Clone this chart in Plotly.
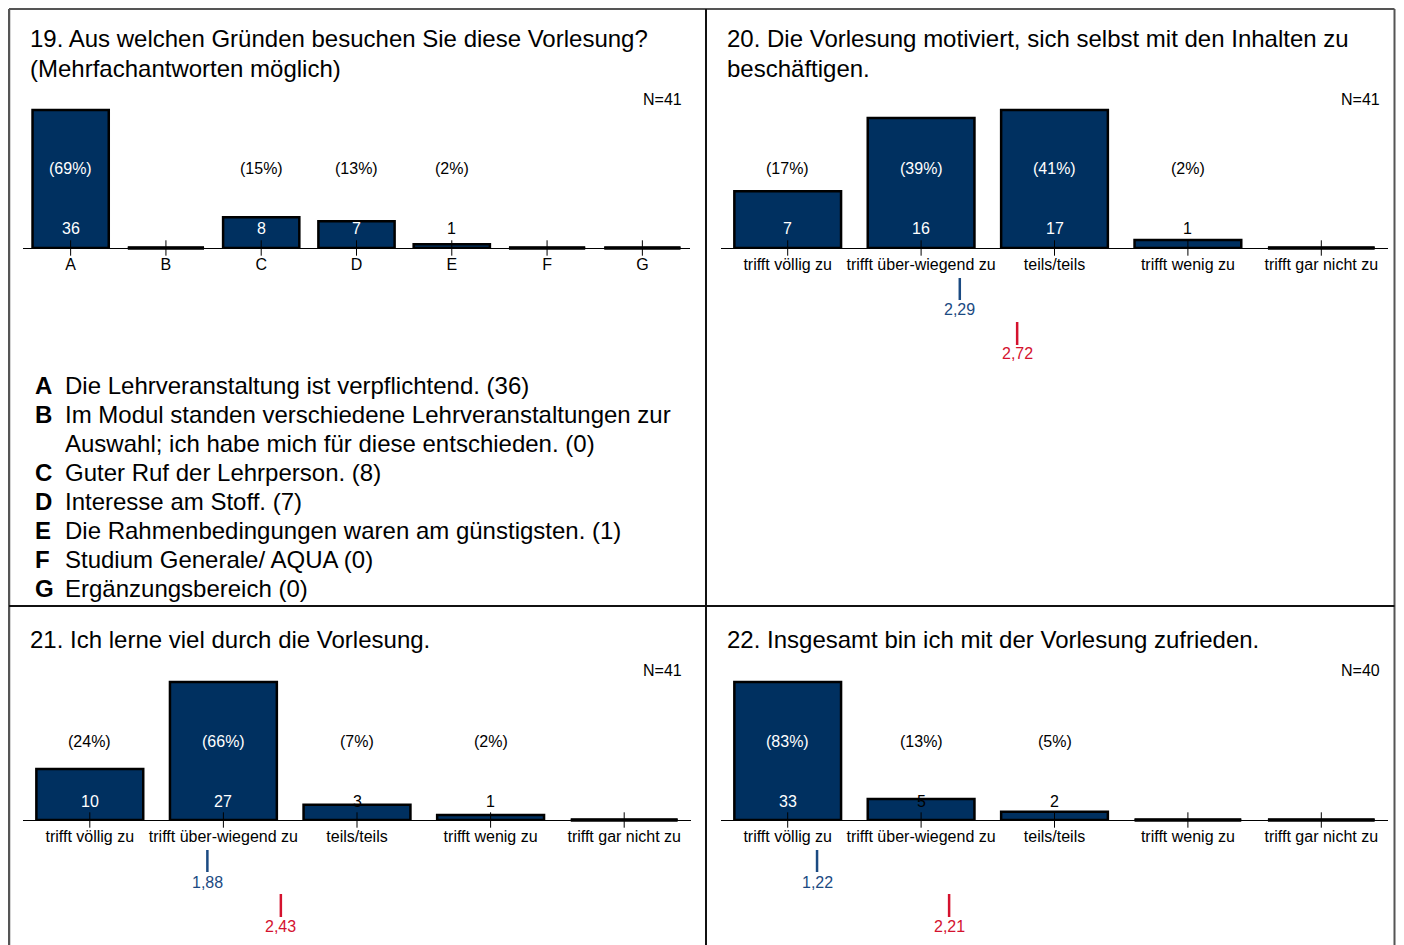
import plotly.graph_objects as go

# ---------------- data ----------------
q19_title = "19. Aus welchen Gründen besuchen Sie diese Vorlesung?<br>(Mehrfachantworten möglich)"
q19_cats = ["A", "B", "C", "D", "E", "F", "G"]
q19_counts = [36, 0, 8, 7, 1, 0, 0]
q19_pct = ["(69%)", "", "(15%)", "(13%)", "(2%)", "", ""]
q19_n = "N=41"

scale_cats = ["trifft völlig zu", "trifft über-wiegend zu", "teils/teils",
              "trifft wenig zu", "trifft gar nicht zu"]

q20_title = "20. Die Vorlesung motiviert, sich selbst mit den Inhalten zu<br>beschäftigen."
q20_counts = [7, 16, 17, 1, 0]
q20_pct = ["(17%)", "(39%)", "(41%)", "(2%)", ""]
q20_n = "N=41"
q20_mean = 2.29
q20_ref = 2.72

q21_title = "21. Ich lerne viel durch die Vorlesung."
q21_counts = [10, 27, 3, 1, 0]
q21_pct = ["(24%)", "(66%)", "(7%)", "(2%)", ""]
q21_n = "N=41"
q21_mean = 1.88
q21_ref = 2.43

q22_title = "22. Insgesamt bin ich mit der Vorlesung zufrieden."
q22_counts = [33, 5, 2, 0, 0]
q22_pct = ["(83%)", "(13%)", "(5%)", "", ""]
q22_n = "N=40"
q22_mean = 1.22
q22_ref = 2.21

legend_letters = ["A", "B", "C", "D", "E", "F", "G"]
legend_texts = [
    "Die Lehrveranstaltung ist verpflichtend. (36)",
    "Im Modul standen verschiedene Lehrveranstaltungen zur<br>Auswahl; ich habe mich für diese entschieden. (0)",
    "Guter Ruf der Lehrperson. (8)",
    "Interesse am Stoff. (7)",
    "Die Rahmenbedingungen waren am günstigsten. (1)",
    "Studium Generale/ AQUA (0)",
    "Ergänzungsbereich (0)",
]

# ---------------- style / geometry ----------------
FONT = "Liberation Sans, Arial, sans-serif"
NAVY = "#003060"
BLUE = "#1b4a82"
RED = "#d4122e"

OFF = 8                      # browser body margin
FW, FH = 1404 - 2 * OFF, 945 - OFF

def px(x):
    return (x - OFF) / FW

def py(y):
    return 1 - (y - OFF) / FH

fig = go.Figure()
shapes = []
annots = []

panels = [
    dict(title=q19_title, cats=q19_cats, counts=q19_counts, pct=q19_pct, n=q19_n,
         mean=None, ref=None, x0=23, x1=690, base=248, tx=28, ty=39, nx=684, ny=99),
    dict(title=q20_title, cats=scale_cats, counts=q20_counts, pct=q20_pct, n=q20_n,
         mean=q20_mean, ref=q20_ref, x0=721, x1=1388, base=248, tx=725, ty=39, nx=1382, ny=99),
    dict(title=q21_title, cats=scale_cats, counts=q21_counts, pct=q21_pct, n=q21_n,
         mean=q21_mean, ref=q21_ref, x0=23, x1=691, base=820, tx=28, ty=639, nx=684, ny=670),
    dict(title=q22_title, cats=scale_cats, counts=q22_counts, pct=q22_pct, n=q22_n,
         mean=q22_mean, ref=q22_ref, x0=721, x1=1388, base=820, tx=725, ty=639, nx=1382, ny=670),
]

BAR_PX = 138
DOM_PX = 150

for k, p in enumerate(panels):
    sfx = "" if k == 0 else str(k + 1)
    xa, ya = "x" + sfx, "y" + sfx
    yd = ya + " domain"
    n = len(p["cats"])
    xs = list(range(n))
    vmax = max(p["counts"])
    ytop = vmax * DOM_PX / BAR_PX

    fig.add_trace(go.Bar(
        x=xs, y=p["counts"], width=0.8, xaxis=xa, yaxis=ya,
        marker=dict(color=NAVY, line=dict(color="black", width=2.5)),
        showlegend=False, hoverinfo="skip"))
    # zero-count categories: flat black bar on the baseline
    for i, c in enumerate(p["counts"]):
        if c == 0:
            shapes.append(dict(type="line", xref=xa, yref=yd, x0=i - 0.4, x1=i + 0.4,
                               y0=0, y1=0, line=dict(color="black", width=3.5)))
    # ticks crossing the baseline
    fig.add_trace(go.Scatter(
        x=xs, y=[0] * n, xaxis=xa, yaxis=ya, mode="markers", cliponaxis=False,
        marker=dict(symbol="line-ns", size=11, line=dict(color="black", width=1)),
        showlegend=False, hoverinfo="skip"))

    for i, c in enumerate(p["counts"]):
        hpx = c / vmax * BAR_PX
        if c > 0:
            annots.append(dict(x=i, y=0, xref=xa, yref=ya, yshift=19, text=str(c),
                               showarrow=False,
                               font=dict(size=16, color="white" if hpx >= 24 else "black")))
        if p["pct"][i]:
            annots.append(dict(x=i, y=0, xref=xa, yref=ya, yshift=79, text=p["pct"][i],
                               showarrow=False,
                               font=dict(size=16, color="white" if hpx >= 88 else "black")))

    if p["mean"] is not None:
        for val, col, l0, l1, lab in [(p["mean"], BLUE, 30, 52, 62),
                                      (p["ref"], RED, 74, 97, 106)]:
            shapes.append(dict(type="line", xref=xa, yref=yd,
                               x0=val - 1, x1=val - 1, y0=-l0 / DOM_PX, y1=-l1 / DOM_PX,
                               line=dict(color=col, width=2.5)))
            annots.append(dict(x=val - 1, y=0, xref=xa, yref=ya, yshift=-lab,
                               text=f"{val:.2f}".replace(".", ","), showarrow=False,
                               font=dict(size=16, color=col)))

    fig.update_layout(**{
        ("xaxis" + sfx): dict(domain=[px(p["x0"]), px(p["x1"])], range=[-0.5, n - 0.5],
                              anchor=ya, tickvals=xs, ticktext=p["cats"], showgrid=False,
                              zeroline=False, showline=True, linecolor="black", linewidth=1,
                              ticks="", ticklabelstandoff=2,
                              tickfont=dict(size=16, color="black", family=FONT),
                              fixedrange=True),
        ("yaxis" + sfx): dict(domain=[py(p["base"]), py(p["base"] - DOM_PX)],
                              range=[0, ytop], anchor=xa, visible=False, fixedrange=True),
    })

    for j, line in enumerate(p["title"].split("<br>")):
        annots.append(dict(x=px(p["tx"]), y=py(p["ty"] + 29 * j), xref="paper", yref="paper",
                           xanchor="left", yanchor="middle", align="left", text=line,
                           showarrow=False, font=dict(size=24, color="black")))
    annots.append(dict(x=px(p["nx"]), y=py(p["ny"]), xref="paper", yref="paper",
                       xanchor="right", yanchor="middle", text=p["n"], showarrow=False,
                       font=dict(size=16, color="black")))

# legend of question 19
row = 0
for letter, txt in zip(legend_letters, legend_texts):
    for j, line in enumerate(txt.split("<br>")):
        yc = 386 + row * 28.9
        if j == 0:
            annots.append(dict(x=px(33), y=py(yc), xref="paper", yref="paper", xanchor="left",
                               yanchor="middle", text="<b>" + letter + "</b>", showarrow=False,
                               font=dict(size=24, color="black")))
        annots.append(dict(x=px(63), y=py(yc), xref="paper", yref="paper", xanchor="left",
                           yanchor="middle", align="left", text=line, showarrow=False,
                           font=dict(size=24, color="black")))
        row += 1

# panel frame
GRAY = "#555555"
RX = 1394.5
shapes += [
    dict(type="line", xref="paper", yref="paper", x0=px(9), x1=px(RX), y0=py(9), y1=py(9),
         line=dict(color=GRAY, width=2)),
    dict(type="line", xref="paper", yref="paper", x0=px(9), x1=px(9), y0=py(9), y1=py(950),
         line=dict(color=GRAY, width=2.5)),
    dict(type="line", xref="paper", yref="paper", x0=px(RX), x1=px(RX), y0=py(9), y1=py(950),
         line=dict(color=GRAY, width=2)),
    dict(type="line", xref="paper", yref="paper", x0=px(706), x1=px(706), y0=py(9), y1=py(950),
         line=dict(color="#111111", width=2)),
    dict(type="line", xref="paper", yref="paper", x0=px(9), x1=px(RX), y0=py(606), y1=py(606),
         line=dict(color="#111111", width=2)),
]

fig.update_layout(
    width=FW, height=FH, margin=dict(l=0, r=0, t=0, b=0),
    paper_bgcolor="white", plot_bgcolor="rgba(0,0,0,0)",
    font=dict(family=FONT, color="black"),
    shapes=shapes, annotations=annots, bargap=0.2, showlegend=False,
)

fig.write_html("out.html")
